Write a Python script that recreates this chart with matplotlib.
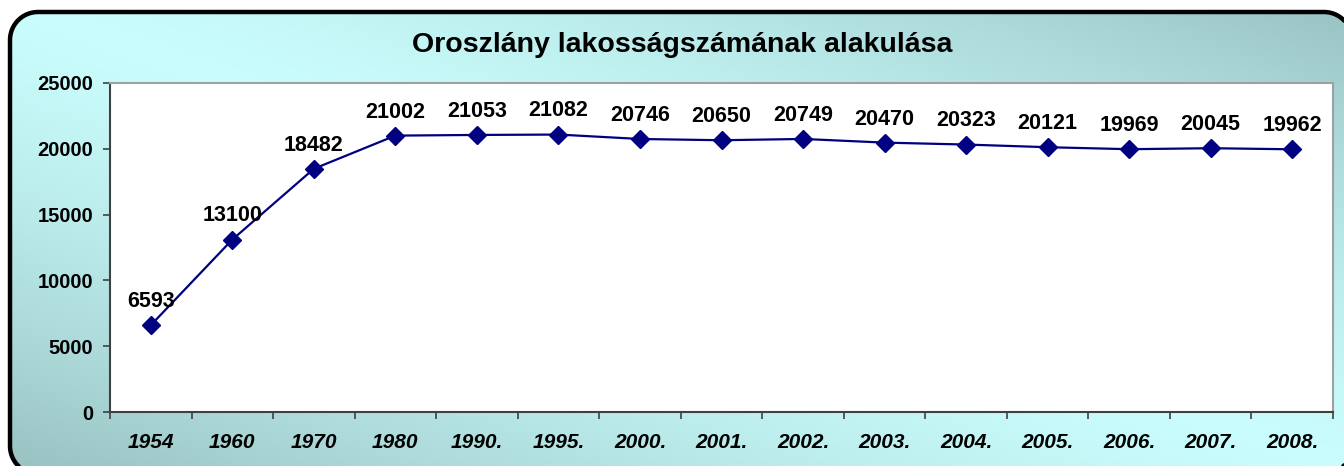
import numpy as np
import matplotlib
matplotlib.use("Agg")
import matplotlib.pyplot as plt
from matplotlib.patches import Polygon

years = ['1954', '1960', '1970', '1980', '1990.', '1995.', '2000.', '2001.',
         '2002.', '2003.', '2004.', '2005.', '2006.', '2007.', '2008.']
population = [6593, 13100, 18482, 21002, 21053, 21082, 20746, 20650,
              20749, 20470, 20323, 20121, 19969, 20045, 19962]
y_ticks = [0, 5000, 10000, 15000, 20000, 25000]
title = "Oroszlány lakosságszámának alakulása"

W, H = 1344, 466
plt.rcParams['font.family'] = ['Liberation Sans', 'DejaVu Sans']

fig = plt.figure(figsize=(W / 100, H / 100), dpi=100)
fig.patch.set_facecolor('white')


def rounded_rect(x0, y0, x1, y1, r, n=24):
    pts = []
    corners = [((x1 - r, y1 - r), 0, 90), ((x0 + r, y1 - r), 90, 180),
               ((x0 + r, y0 + r), 180, 270), ((x1 - r, y0 + r), 270, 360)]
    for (cx, cy), a0, a1 in corners:
        a = np.radians(np.linspace(a0, a1, n))
        pts.extend(zip(cx + r * np.cos(a), cy + r * np.sin(a)))
    return np.array(pts)


# background with rounded border and diagonal gradient (pixel coords, y up)
bg = fig.add_axes([0, 0, 1, 1])
bg.axis('off')
u = np.linspace(0, 1, 400)
v = np.linspace(0, 1, 150)
U, V = np.meshgrid(u, v)  # V measured from top
t = np.clip(np.abs(U - V), 0, 1) ** 1.4
light = np.array([0.79, 0.99, 0.99])
dark = np.array([0.60, 0.76, 0.76])
img = light[None, None, :] * (1 - t[..., None]) + dark[None, None, :] * t[..., None]
im = bg.imshow(img, extent=(0, W, 0, H), origin='upper', aspect='auto', zorder=1)
bx0, by_top, bx1, by_bot = 10, 12, 1352, 474
box = Polygon(rounded_rect(bx0, H - by_bot, bx1, H - by_top, 28), closed=True,
              facecolor='none', edgecolor='black', linewidth=3.2, zorder=3)
bg.add_patch(box)
im.set_clip_path(box)
bg.set_xlim(0, W)
bg.set_ylim(0, H)

fig.text(682 / W, 1 - 45 / H, title, ha='center', va='center',
         fontsize=20.5, fontweight='bold')

# plot area
left, right, top, bottom = 110, 1333, 83, 412
ax = fig.add_axes([left / W, 1 - bottom / H, (right - left) / W, (bottom - top) / H])
ax.set_facecolor('white')
x = np.arange(len(years))
ax.plot(x, population, color='#000080', linewidth=1.6, marker='D',
        markersize=9.5, markerfacecolor='#000080', markeredgecolor='#000080', zorder=3)
for xi, val in zip(x, population):
    ax.annotate(str(val), (xi, val), xytext=(0, 17), textcoords='offset points',
                ha='center', va='center', fontsize=15.5, fontweight='bold')

ax.set_xlim(-0.5, len(years) - 0.5)
ax.set_ylim(0, 25000)
ax.set_yticks(y_ticks)
ax.set_yticklabels([str(v) for v in y_ticks], fontsize=14.5, fontweight='bold')
ax.set_xticks(x)
ax.set_xticklabels(years, fontsize=15, fontweight='bold', style='italic')
ax.set_xticks(np.arange(-0.5, len(years), 1.0), minor=True)
ax.tick_params(axis='x', which='major', length=0, pad=15)
ax.tick_params(axis='x', which='minor', length=5, width=1.2, color='#404040')
ax.tick_params(axis='y', length=5, width=1.2, color='#404040', pad=7)

for s in ['left', 'bottom']:
    ax.spines[s].set_color('#404040')
    ax.spines[s].set_linewidth(1.5)
for s in ['top', 'right']:
    ax.spines[s].set_color('#a0a0a0')
    ax.spines[s].set_linewidth(1.5)

fig.savefig('out.png', dpi=100)
